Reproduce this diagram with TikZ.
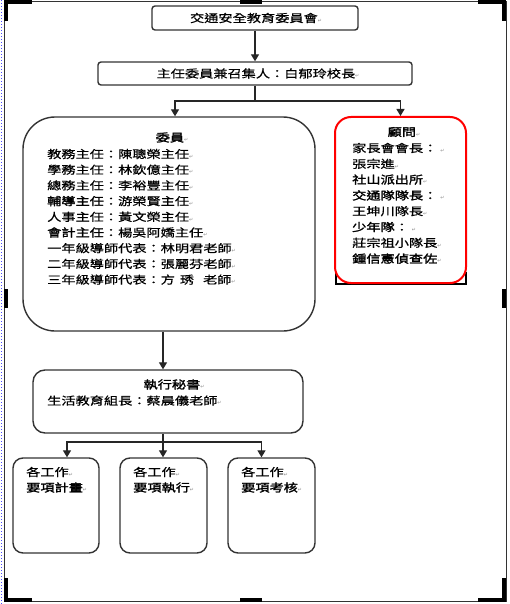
\documentclass[tikz,border=0pt]{standalone}
\usepackage{fontspec}
\setmainfont{Noto Sans CJK TC}[FakeStretch=1.29,FakeBold=0.6]
\newfontfamily\cjkb{Noto Sans CJK TC}[FakeStretch=1.29,FakeBold=2]
\newfontfamily\dejavu{DejaVu Sans}
\usetikzlibrary{arrows.meta,fit,calc}
\newcommand\pmk{{\dejavu\fontsize{5}{5}\selectfont\color{black!45}↵}}
\begin{document}
\begin{tikzpicture}[x=1pt,y=-1pt,
  box/.style={draw=black!80, line width=1.4pt, rounded corners=#1, inner sep=0pt},
  redbox/.style={draw=red, line width=2pt, rounded corners=#1, inner sep=0pt},
  txt/.style={anchor=west, inner sep=0pt, font=\fontsize{11}{13}\selectfont},
  ctxt/.style={anchor=center, inner sep=0pt, font=\fontsize{11}{13}\selectfont},
  arr/.style={draw=black!85, line width=1.3pt, -{Triangle[length=7pt,width=8pt]}},
  ln/.style={draw=black!85, line width=1.3pt},
  handle/.style={draw=black, line width=4pt}]
\useasboundingbox (0,0) rectangle (510,604);
% frame
\draw[black!80, line width=0.8pt] (4,1) rectangle (506,601);
\draw[blue!70, dotted, line width=1pt] (1,0) -- (1,604);
\draw[handle] (6,21) -- (6,2) -- (32,2);
\draw[handle] (240,2) -- (262,2);
\draw[handle] (478,2) -- (504,2) -- (504,21);
\draw[handle] (6,289) -- (6,308);
\draw[handle] (504,289) -- (504,308);
\draw[handle] (6,578) -- (6,600) -- (32,600);
\draw[handle] (240,600) -- (262,600);
\draw[handle] (478,600) -- (504,600) -- (504,578);

% boxes
\node[box=3pt, fit={(152,6) (358,30)}] (top) {};
\node[box=3pt, fit={(98,62) (412,85)}] (second) {};
\node[box=32pt, fit={(23,117) (315,331)}] (comm) {};
\draw[black, line width=1.2pt] (336,272) -- (336,284) -- (466,284) -- (466,272);
\node[redbox=16pt, fit={(335,117) (466,283)}] (adv) {};
\node[box=12pt, fit={(33,370) (303,433)}] (exec) {};
\node[box=10pt, fit={(13,458) (99,553)}] (b1) {};
\node[box=10pt, fit={(120,458) (207,553)}] (b2) {};
\node[box=10pt, fit={(228,458) (315,553)}] (b3) {};

% connectors
\draw[arr] (top.south) -- (second.north);
\coordinate (j1) at (255,101);
\draw[ln] (second.south) -- (j1);
\draw[arr] (j1) -| ($(comm.north)+(6,0)$);
\draw[arr] (j1) -| (adv.north);
\draw[arr] (comm.south -| 163,0) -- (exec.north -| 163,0);
\coordinate (j2) at (163,442);
\draw[ln] (exec.south -| j2) -- (j2);
\draw[arr] (j2) -| ($(b1.north)+(11,0)$);
\draw[arr] (j2) -- (b2.north -| j2);
\draw[arr] (j2) -| ($(b3.north)+(-10,0)$);

% texts
\node[ctxt] (ttop) at (256,18) {交通安全教育委員會\pmk};
\node[ctxt] (tsec) at (258,73.5) {主任委員兼召集人：白郁玲校長\pmk};

\node[ctxt] (tcomm) at (172,137.5) {\cjkb 委員\pmk};
\foreach \t [count=\i] in {教務主任：陳聰榮主任\pmk,
  學務主任：林欽億主任\pmk,
  總務主任：李裕豐主任\pmk,
  {\cjkb 輔導主任}：游榮賢主任\pmk,
  人事主任：黃文榮主任\pmk,
  {\cjkb 會計主任}：楊吳阿嬌主任\pmk,
  一年級導師代表：林明君老師\pmk,
  二年級導師代表：張麗芬老師\pmk,
  三年級導師代表：方\hspace{5pt}琇\hspace{9pt}老師\pmk}
  \node[txt] (c\i) at (47,{154+15.7*(\i-1)}) {\t};

\node[ctxt] (tadv) at (404,132) {\cjkb 顧問\pmk};
\foreach \t [count=\i] in {家長會會長：\hspace{3pt}\pmk,
  張宗進\pmk,
  {\cjkb 社山派出所}\pmk,
  {\cjkb 交通隊隊長}：\hspace{3pt}\pmk,
  王坤川隊長\pmk,
  {\cjkb 少年隊}：\hspace{3pt}\pmk,
  莊宗祖小隊長\pmk,
  {\cjkb 鍾信憲偵查佐}\pmk}
  \node[txt] (a\i) at (352,{148+15.8*(\i-1)}) {\t};

\node[ctxt] (texec) at (174,384.5) {\cjkb 執行秘書\pmk};
\node[txt] (e1) at (47,400.6) {生活教育組長：蔡晨儀老師\pmk};

\node[txt] (w1) at (26,472) {各工作\pmk};
\node[txt] (p1) at (26,487.5) {\cjkb 要項計畫\pmk};
\node[txt] (w2) at (133,472) {各工作\pmk};
\node[txt] (p2) at (133,487.5) {\cjkb 要項執行\pmk};
\node[txt] (w3) at (241,472) {各工作\pmk};
\node[txt] (p3) at (241,487.5) {\cjkb 要項考核\pmk};
\end{tikzpicture}
\end{document}
